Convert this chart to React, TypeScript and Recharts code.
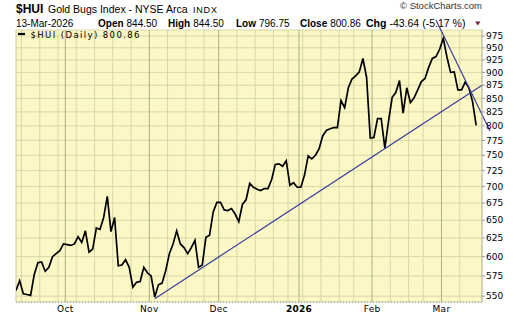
import { LineChart, Line, XAxis, YAxis, CartesianGrid, ReferenceLine } from "recharts";

// trading days + daily closes
const sepDays = [11, 12, 15, 16, 17, 18, 19, 22, 23, 24, 25, 26, 29, 30];
const sepClose = [557, 569, 553, 552, 551, 577, 592, 593, 581, 586, 600, 604, 608, 617];
const octDays = [1, 2, 3, 6, 7, 8, 9, 10, 13, 14, 15, 16, 17, 20, 21, 22, 23, 24, 27, 28, 29, 30, 31];
const octClose = [616, 615, 617, 627, 619, 635, 606, 610, 639, 637, 654, 685, 634, 654, 588, 589, 596, 586, 561, 567, 568, 586, 579];
const novDays = [3, 4, 5, 6, 7, 10, 11, 12, 13, 14, 17, 18, 19, 20, 21, 24, 25, 26, 28];
const novClose = [575, 549, 564, 566, 582, 604, 617, 635, 617, 612, 604, 612, 622, 586, 589, 626, 629, 662, 676];
const decDays = [1, 2, 3, 4, 5, 8, 9, 10, 11, 12, 15, 16, 17, 18, 19, 22, 23, 24, 26, 29, 30, 31];
const decClose = [676, 665, 664, 667, 659, 648, 673, 680, 705, 699, 696, 694, 697, 697, 711, 735, 736, 732, 741, 702, 706, 699];
const janDays = [2, 5, 6, 7, 8, 9, 12, 13, 14, 15, 16, 20, 21, 22, 23, 26, 27, 28, 29, 30];
const janClose = [699, 718, 749, 744, 750, 761, 783, 792, 795, 797, 797, 846, 833, 870, 887, 893, 901, 928, 890, 779];
const febDays = [2, 3, 4, 5, 6, 9, 10, 11, 12, 13, 17, 18, 19, 20, 23, 24, 25, 26, 27];
const febClose = [780, 813, 813, 762, 808, 852, 861, 884, 823, 870, 842, 851, 866, 882, 888, 910, 928, 932, 947];
const marDays = [2, 3, 4, 5, 6, 9, 10, 11, 12, 13];
const marClose = [970, 931, 900, 901, 866, 866, 881, 870, 844.5, 800.86];

const monthLabels: Record<number, string> = { 10: "Oct", 11: "Nov", 12: "Dec", 1: "2026", 2: "Feb", 3: "Mar" };
const yTicks = [550, 575, 600, 625, 650, 675, 700, 725, 750, 775, 800, 825, 850, 875, 900, 925, 950, 975];

// hand-drawn trend lines (x = trading day index)
const upTrend = [{ x: 38, y: 547 }, { x: 127.6, y: 875 }];
const downTrend = [{ x: 115, y: 1010 }, { x: 129.8, y: 791 }];

const months = [
  { yr: 2025, mo: 9, days: sepDays, close: sepClose },
  { yr: 2025, mo: 10, days: octDays, close: octClose },
  { yr: 2025, mo: 11, days: novDays, close: novClose },
  { yr: 2025, mo: 12, days: decDays, close: decClose },
  { yr: 2026, mo: 1, days: janDays, close: janClose },
  { yr: 2026, mo: 2, days: febDays, close: febClose },
  { yr: 2026, mo: 3, days: marDays, close: marClose },
];

const data = months
  .flatMap((mb) => mb.days.map((d, k) => ({ yr: mb.yr, mo: mb.mo, d, close: mb.close[k] })))
  .map((r, i) => ({ ...r, i }));

const monthStarts = data.filter((r, i) => i > 0 && r.mo !== data[i - 1].mo);
const weekStarts = data.filter((r, i) => {
  if (i === 0) return false;
  const p = data[i - 1];
  const a = new Date(r.yr, r.mo - 1, r.d).getDay();
  const b = new Date(p.yr, p.mo - 1, p.d).getDay();
  return a < b && r.mo === p.mo;
});
const tickLabel = new Map(monthStarts.map((r) => [r.i - 0.5, monthLabels[r.mo]]));

const MonthTick = (props: any) => {
  const { x, y, payload } = props;
  const label = tickLabel.get(payload.value) || "";
  return (
    <text x={x} y={y} dy={7} textAnchor="middle" fontSize={9} fontFamily="DejaVu Sans" fill="#000"
      fontWeight={label === "2026" ? "bold" : "normal"} letterSpacing={0.3}>
      {label}
    </text>
  );
};

const hdr = { fontFamily: "Liberation Sans, Arial, sans-serif", fill: "#000" };

export default function App() {
  return (
    <div style={{ position: "absolute", left: 0, top: 0, width: 520, height: 318, background: "#fff" }}>
      <svg width={520} height={318} style={{ position: "absolute", left: 0, top: 0 }}>
        <text x={16} y={13} fontSize={12} fontWeight="bold" {...hdr}>$HUI</text>
        <text x={48} y={13} fontSize={10.5} {...hdr}>Gold Bugs Index - NYSE Arca</text>
        <text x={193} y={13} fontSize={9} letterSpacing={0.8} {...hdr}>INDX</text>
        <text x={400} y={8.5} fontSize={9.5} {...hdr} fill="#333">© StockCharts.com</text>
        <g fontSize={10} {...hdr}>
          <text x={16} y={27}>13-Mar-2026</text>
          <text x={98} y={27}><tspan fontWeight="bold">Open</tspan><tspan dx={3}>844.50</tspan></text>
          <text x={168} y={27}><tspan fontWeight="bold">High</tspan><tspan dx={3}>844.50</tspan></text>
          <text x={236} y={27}><tspan fontWeight="bold">Low</tspan><tspan dx={3}>796.75</tspan></text>
          <text x={300} y={27}><tspan fontWeight="bold">Close</tspan><tspan dx={3}>800.86</tspan></text>
          <text x={366} y={27} fontSize={10.5}><tspan fontWeight="bold">Chg</tspan><tspan dx={3}>-43.64</tspan><tspan dx={3}>(-5.17 %)</tspan></text>
        </g>
        <path d="M475 21.5 L480.5 21.5 L477.75 25.5 Z" fill="#7B1E48" />
      </svg>
      <div style={{ position: "absolute", left: 0, top: 0 }}>
        <LineChart width={520} height={318} data={data} margin={{ top: 30, right: 0, bottom: 0, left: 16 }}>
          <CartesianGrid vertical={false} stroke="#D9D7A8" fill="#FBF8C6" fillOpacity={1} />
          {weekStarts.map((r) => (
            <ReferenceLine key={"w" + r.i} x={r.i - 0.5} stroke="#D9D7A8" strokeWidth={1} />
          ))}
          {monthStarts.map((r) => (
            <ReferenceLine key={"m" + r.i} x={r.i - 0.5} stroke="#AEB083" strokeWidth={1} />
          ))}
          <ReferenceLine x={0} stroke="#C8C8A8" />
          <XAxis dataKey="i" type="number" domain={[0, 127.6]} allowDataOverflow
            ticks={monthStarts.map((r) => r.i - 0.5)} tick={<MonthTick />} interval={0}
            height={16} tickSize={0} tickMargin={3}
            axisLine={{ stroke: "#888", strokeDasharray: "1 2" }} />
          <YAxis orientation="right" scale="log" type="number" domain={[543, 988]} allowDataOverflow
            ticks={yTicks} interval={0} width={38} tickSize={3} tickMargin={1}
            tickLine={{ stroke: "#999" }} axisLine={{ stroke: "#A8A890" }}
            tick={{ fontSize: 9, fill: "#000", fontFamily: "DejaVu Sans" }} />
          <Line dataKey="close" type="linear" stroke="#000" strokeWidth={1.7} dot={false} isAnimationActive={false} />
          <ReferenceLine segment={upTrend} stroke="#3B3B9E" strokeWidth={1.2} ifOverflow="visible" />
          <ReferenceLine segment={downTrend} stroke="#3B3B9E" strokeWidth={1.2} ifOverflow="visible" />
        </LineChart>
      </div>
      <svg width={200} height={40} style={{ position: "absolute", left: 0, top: 0 }}>
        <line x1={18} y1={34} x2={25} y2={34} stroke="#000" strokeWidth={2.2} />
        <text x={30.5} y={37.5} fontSize={8.5} fontFamily="DejaVu Sans" letterSpacing={1.4} fill="#000">$HUI (Daily) 800.86</text>
      </svg>
    </div>
  );
}
